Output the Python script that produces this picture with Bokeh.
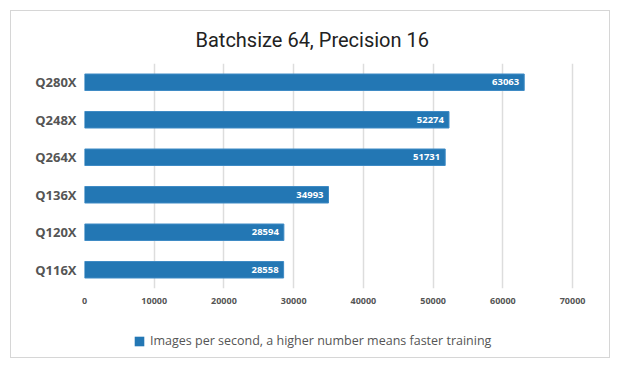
from bokeh.plotting import figure
from bokeh.layouts import column
from bokeh.models import ColumnDataSource, FactorRange, Range1d, Legend, LegendItem, SingleIntervalTicker, NumeralTickFormatter
from bokeh.core.properties import value
from bokeh.embed import file_html
from bokeh.resources import INLINE

categories = ["Q280X", "Q248X", "Q264X", "Q136X", "Q120X", "Q116X"]
images_per_second = [63063, 52274, 51731, 34993, 28594, 28558]
labels = [str(v) for v in images_per_second]
series_name = "Images per second, a higher number means faster training"
chart_title = "Batchsize 64, Precision 16"

source = ColumnDataSource(dict(cat=categories, val=images_per_second, lab=labels))
bar_color = "#2377b4"
bar_edge = "#3f8bc5"

p = figure(width=598, height=302, output_backend="svg", toolbar_location=None,
           y_range=FactorRange(factors=list(reversed(categories))),
           x_range=Range1d(0, 73000),
           min_border_left=73, min_border_top=52, min_border_bottom=25, min_border_right=16,
           title=chart_title)

p.title.align = "left"
p.title.offset = 111
p.title.text_font = "Roboto"
p.title.text_font_style = "normal"
p.title.text_font_size = "20px"
p.title.text_color = "#222222"
p.title.standoff = 24

p.hbar(y="cat", right="val", left=0, height=0.44, source=source,
       fill_color=bar_color, line_color=bar_edge, line_width=1)

p.text(x="val", y="cat", text="lab", source=source, x_offset=-5,
       text_align="right", text_baseline="middle", text_color="white",
       text_font=value("Open Sans"), text_font_style="bold", text_font_size="9.5px")

p.xaxis.ticker = SingleIntervalTicker(interval=10000)
p.xaxis.formatter = NumeralTickFormatter(format="0")
p.xaxis.axis_line_color = None
p.xaxis.major_tick_line_color = None
p.xaxis.minor_tick_line_color = None
p.xaxis.major_tick_out = 0
p.xaxis.major_tick_in = 0
p.xaxis.major_label_text_font = "Open Sans"
p.xaxis.major_label_text_font_style = "bold"
p.xaxis.major_label_text_font_size = "9px"
p.xaxis.major_label_text_color = "#555555"
p.xaxis.major_label_standoff = 5

p.yaxis.axis_line_color = None
p.yaxis.major_tick_line_color = None
p.yaxis.minor_tick_line_color = None
p.yaxis.major_tick_out = 0
p.yaxis.major_tick_in = 0
p.yaxis.major_label_text_font = "Open Sans"
p.yaxis.major_label_text_font_style = "bold"
p.yaxis.major_label_text_font_size = "13px"
p.yaxis.major_label_text_color = "#555555"
p.yaxis.major_label_standoff = 8

p.ygrid.grid_line_color = None
p.xgrid.grid_line_color = "#dddddd"
p.xgrid.grid_line_width = 1.5
p.outline_line_color = None

# legend strip below the chart: swatch renderer uses the same data, drawn flat and out of view
lg = figure(width=598, height=44, output_backend="svg", toolbar_location=None,
            x_range=Range1d(-2e6, -1e6), y_range=FactorRange(factors=list(reversed(categories))),
            min_border_left=0, min_border_right=0, min_border_top=11, min_border_bottom=0)
lg.axis.visible = False
lg.grid.visible = False
lg.outline_line_color = None
swatch = lg.hbar(y="cat", right="val", left=0, height=0, source=source,
                 fill_color=bar_color, line_color=None)

legend = Legend(items=[LegendItem(label=series_name, renderers=[swatch])],
                orientation="horizontal", location=(49, 8))
legend.label_text_font = "Open Sans"
legend.label_text_font_size = "12.5px"
legend.label_text_color = "#555555"
legend.border_line_color = None
legend.background_fill_alpha = 0
legend.glyph_width = 12
legend.glyph_height = 12
legend.padding = 0
legend.margin = 0
legend.label_standoff = 5
lg.add_layout(legend)

layout = column(p, lg, spacing=0, styles={"border": "1px solid #d6d6d6", "margin": "10px 0 0 10px"})

open("out.html", "w").write(file_html(layout, INLINE))
